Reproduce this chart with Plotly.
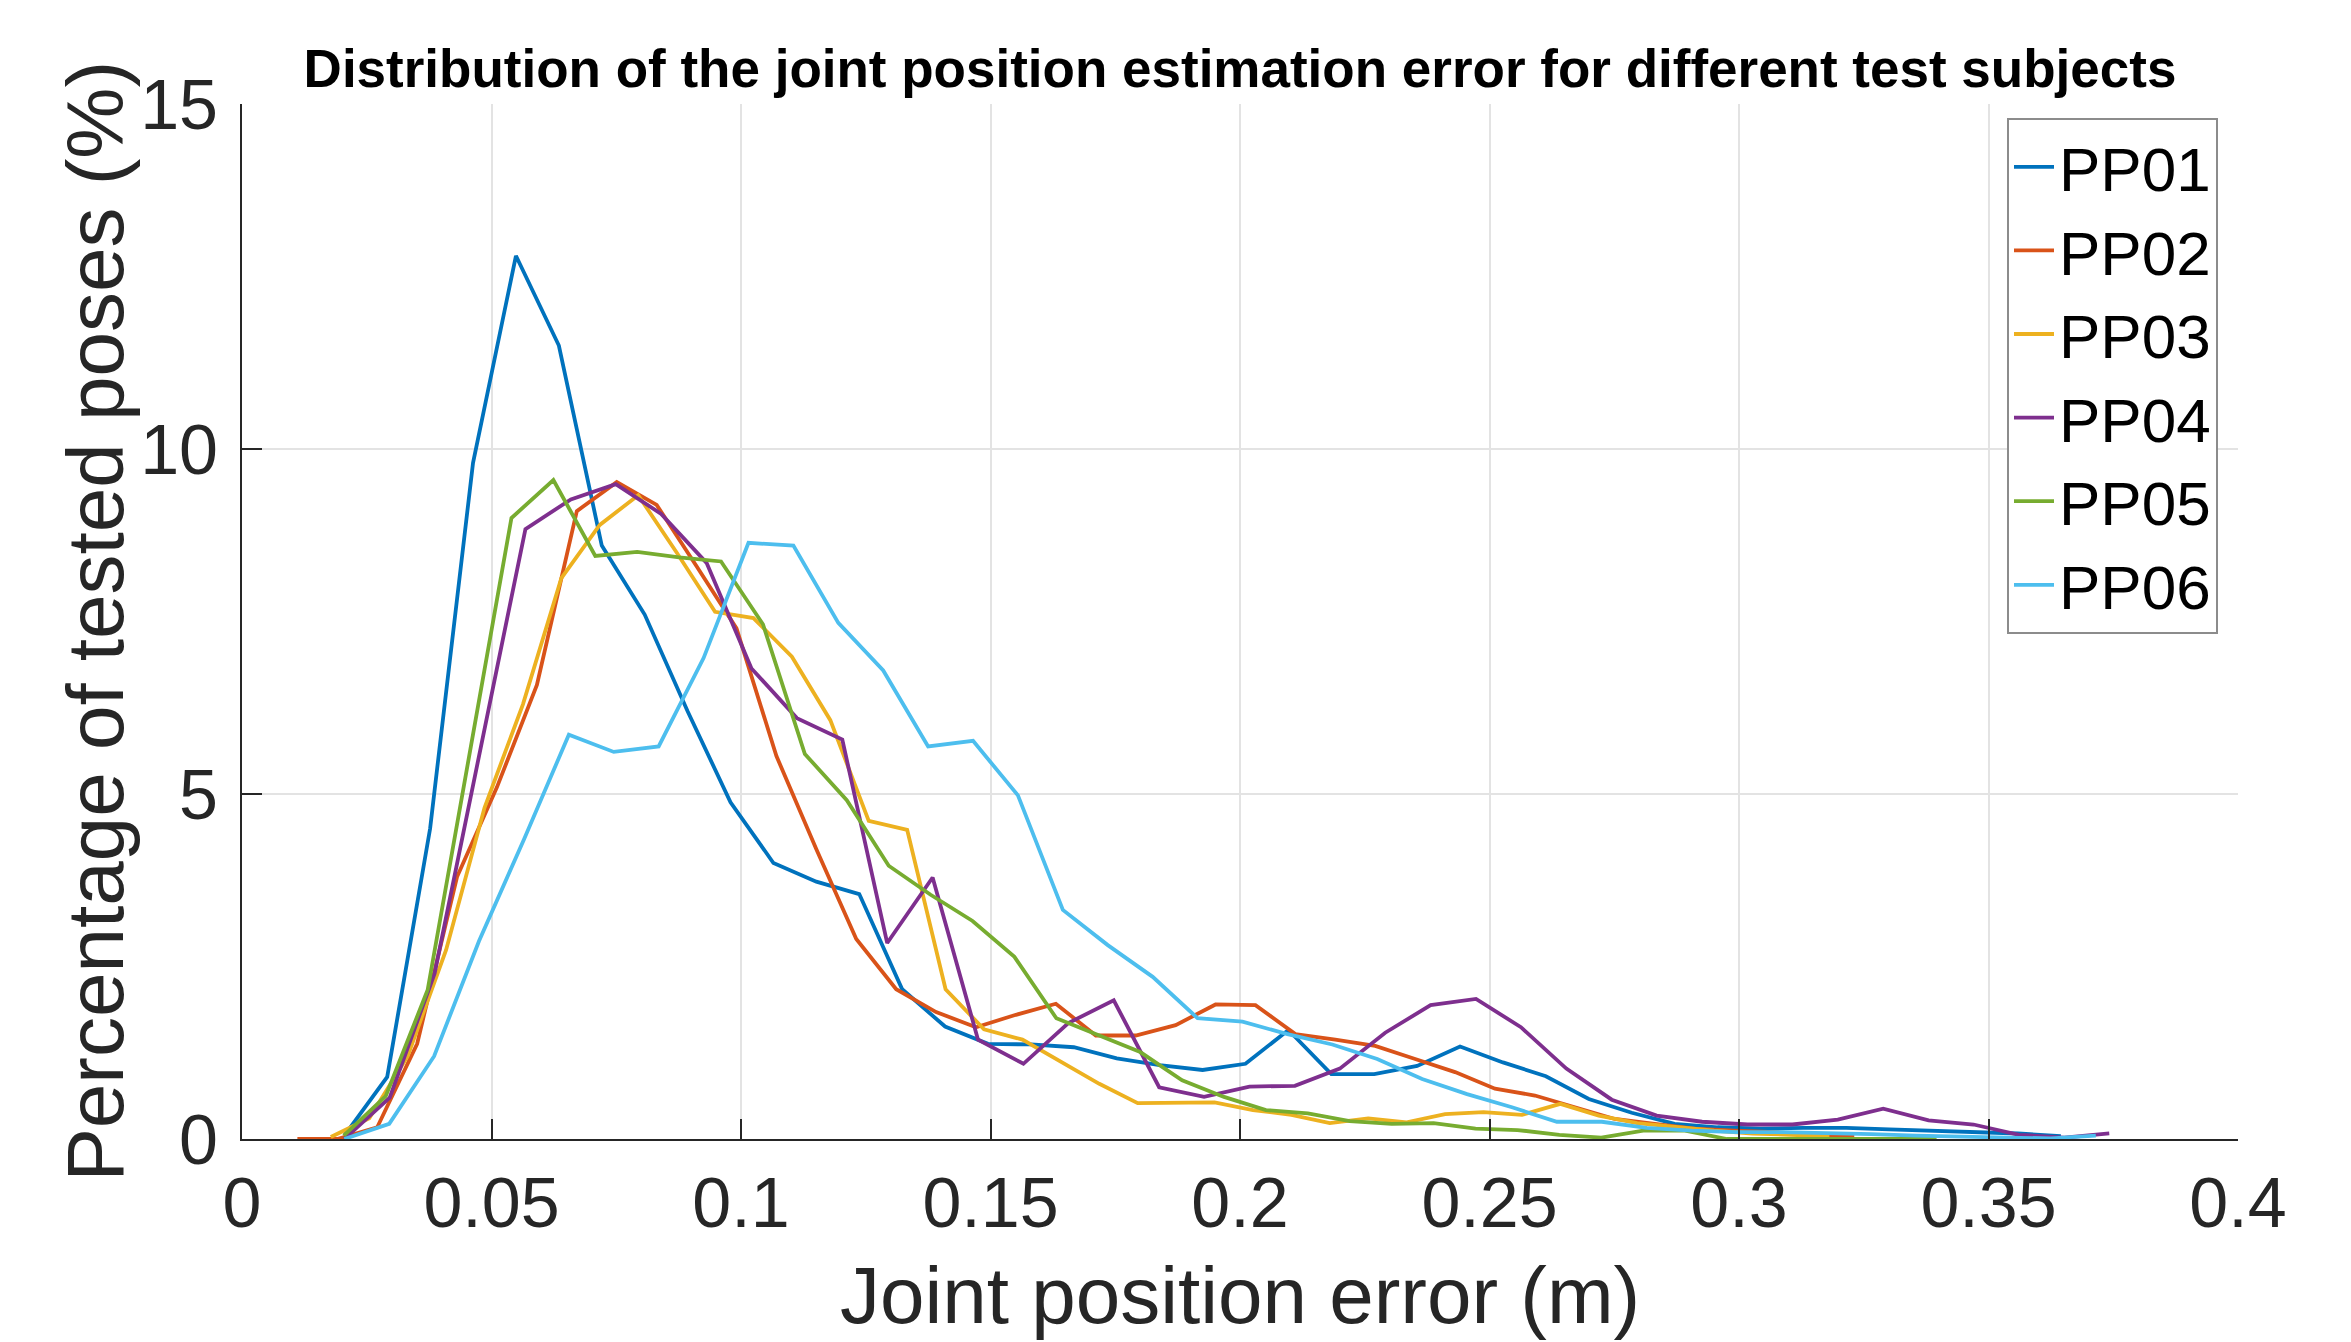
import plotly.graph_objects as go

# ---------------- data ----------------
names = ["PP01", "PP02", "PP03", "PP04", "PP05", "PP06"]
colors = ["#0072BD", "#D95319", "#EDB120", "#7E2F8E", "#77AC30", "#4DBEEE"]

pp01_x = [0.0205, 0.0291, 0.0377, 0.0463, 0.0549, 0.0635, 0.0721, 0.0807, 0.0893, 0.0979,
          0.1065, 0.1151, 0.1237, 0.1323, 0.1409, 0.1495, 0.1581, 0.1667, 0.1753, 0.1839,
          0.1925, 0.2011, 0.2097, 0.2183, 0.2269, 0.2355, 0.2441, 0.2527, 0.2613, 0.2699,
          0.2785, 0.2871, 0.2957, 0.3043, 0.3129, 0.3215, 0.3301, 0.3387, 0.3473, 0.3559,
          0.3645]
pp01_y = [0.05, 0.9, 4.5, 9.8, 12.8, 11.5, 8.6, 7.6, 6.2, 4.88,
          4.0, 3.73, 3.55, 2.17, 1.63, 1.38, 1.37, 1.33, 1.17, 1.07,
          1.0, 1.09, 1.58, 0.94, 0.94, 1.06, 1.34, 1.11, 0.91, 0.58,
          0.38, 0.22, 0.17, 0.15, 0.16, 0.16, 0.14, 0.12, 0.1, 0.08,
          0.04]

pp02_x = [0.0111, 0.0191, 0.0271, 0.0351, 0.0431, 0.0511, 0.0591, 0.0671, 0.0751, 0.0831,
          0.0911, 0.0991, 0.1071, 0.1151, 0.1231, 0.1311, 0.1391, 0.1471, 0.1551, 0.1631,
          0.1711, 0.1791, 0.1871, 0.1951, 0.2031, 0.2111, 0.2191, 0.2271, 0.2351, 0.2431,
          0.2511, 0.2591, 0.2671, 0.2751, 0.2831, 0.2911, 0.2991, 0.3071, 0.3151, 0.3231]
pp02_y = [0.0, 0.0, 0.17, 1.38, 3.8, 5.1, 6.58, 9.1, 9.52, 9.19,
          8.3, 7.4, 5.55, 4.2, 2.9, 2.17, 1.84, 1.62, 1.8, 1.96,
          1.5, 1.5, 1.65, 1.95, 1.94, 1.52, 1.44, 1.35, 1.16, 0.97,
          0.73, 0.63, 0.46, 0.29, 0.22, 0.15, 0.12, 0.1, 0.06, 0.04]

pp03_x = [0.0178, 0.0255, 0.0332, 0.0409, 0.0486, 0.0563, 0.0640, 0.0717, 0.0794, 0.0871,
          0.0948, 0.1025, 0.1102, 0.1179, 0.1256, 0.1333, 0.1410, 0.1487, 0.1564, 0.1641,
          0.1718, 0.1795, 0.1872, 0.1949, 0.2026, 0.2103, 0.2180, 0.2257, 0.2334, 0.2411,
          0.2488, 0.2565, 0.2642, 0.2719, 0.2796, 0.2873, 0.2950, 0.3027, 0.3104, 0.3181]
pp03_y = [0.03, 0.3, 1.2, 2.74, 4.8, 6.3, 8.13, 8.9, 9.33, 8.5,
          7.64, 7.55, 6.99, 6.07, 4.61, 4.48, 2.17, 1.59, 1.44, 1.12,
          0.8, 0.52, 0.52, 0.53, 0.42, 0.35, 0.23, 0.3, 0.24, 0.36,
          0.39, 0.35, 0.51, 0.34, 0.23, 0.17, 0.12, 0.08, 0.06, 0.04]

pp04_x = [0.0205, 0.0296, 0.0386, 0.0477, 0.0568, 0.0659, 0.0749, 0.0840, 0.0931, 0.1021,
          0.1112, 0.1203, 0.1293, 0.1384, 0.1475, 0.1566, 0.1656, 0.1747, 0.1838, 0.1928,
          0.2019, 0.2110, 0.2200, 0.2291, 0.2382, 0.2473, 0.2563, 0.2654, 0.2745, 0.2835,
          0.2926, 0.3017, 0.3107, 0.3198, 0.3289, 0.3380, 0.3470, 0.3561, 0.3652, 0.3742]
pp04_y = [0.0, 0.6, 2.4, 5.6, 8.84, 9.27, 9.49, 9.06, 8.35, 6.82,
          6.1, 5.79, 2.84, 3.79, 1.44, 1.09, 1.68, 2.01, 0.75, 0.61,
          0.76, 0.77, 1.02, 1.54, 1.94, 2.03, 1.62, 1.02, 0.57, 0.34,
          0.25, 0.21, 0.21, 0.28, 0.44, 0.27, 0.21, 0.06, 0.02, 0.08]

pp05_x = [0.0204, 0.0288, 0.0372, 0.0456, 0.0540, 0.0624, 0.0708, 0.0792, 0.0876, 0.0960,
          0.1044, 0.1128, 0.1212, 0.1296, 0.1380, 0.1464, 0.1548, 0.1632, 0.1716, 0.1800,
          0.1884, 0.1968, 0.2052, 0.2136, 0.2220, 0.2304, 0.2388, 0.2472, 0.2556, 0.2640,
          0.2724, 0.2808, 0.2892, 0.2976, 0.3060, 0.3144, 0.3228, 0.3312, 0.3396]
pp05_y = [0.05, 0.62, 2.16, 5.6, 9.0, 9.55, 8.45, 8.51, 8.43, 8.37,
          7.46, 5.58, 4.91, 3.96, 3.54, 3.16, 2.64, 1.75, 1.51, 1.26,
          0.85, 0.61, 0.42, 0.37, 0.26, 0.22, 0.23, 0.15, 0.13, 0.06,
          0.02, 0.12, 0.12, 0.0, 0.0, 0.0, 0.01, 0.0, 0.0]

pp06_x = [0.0205, 0.0295, 0.0385, 0.0475, 0.0565, 0.0655, 0.0745, 0.0835, 0.0925, 0.1015,
          0.1105, 0.1195, 0.1285, 0.1375, 0.1465, 0.1555, 0.1645, 0.1735, 0.1825, 0.1915,
          0.2005, 0.2095, 0.2185, 0.2275, 0.2365, 0.2455, 0.2545, 0.2635, 0.2725, 0.2815,
          0.2905, 0.2995, 0.3085, 0.3175, 0.3265, 0.3355, 0.3445, 0.3535, 0.3625, 0.3715]
pp06_y = [0.0, 0.22, 1.2, 2.87, 4.34, 5.86, 5.61, 5.69, 6.97, 8.64,
          8.6, 7.48, 6.79, 5.69, 5.77, 4.98, 3.32, 2.81, 2.35, 1.75,
          1.70, 1.52, 1.37, 1.16, 0.87, 0.65, 0.46, 0.25, 0.25, 0.16,
          0.12, 0.1, 0.1, 0.09, 0.07, 0.05, 0.03, 0.02, 0.01, 0.05]

x_ticks = [0, 0.05, 0.1, 0.15, 0.2, 0.25, 0.3, 0.35, 0.4]
x_tick_labels = ["0", "0.05", "0.1", "0.15", "0.2", "0.25", "0.3", "0.35", "0.4"]
y_ticks = [0, 5, 10, 15]
y_tick_labels = ["0", "5", "10", "15"]

title_text = "Distribution of the joint position estimation error for different test subjects"
x_title = "Joint position error (m)"
y_title = "Percentage of tested poses (%)"

# ---------------- figure ----------------
series_x = [pp01_x, pp02_x, pp03_x, pp04_x, pp05_x, pp06_x]
series_y = [pp01_y, pp02_y, pp03_y, pp04_y, pp05_y, pp06_y]

FONT = "Liberation Sans, Arial, Helvetica, sans-serif"
AX = "#262626"

fig = go.Figure()
for nm, col, xs, ys in zip(names, colors, series_x, series_y):
    fig.add_trace(go.Scatter(x=xs, y=ys, name=nm, mode="lines",
                             line=dict(color=col, width=3.8)))

W, H = 2351, 1342
L, R, T, B = 242, 113, 104, 203
pw, ph = W - L - R, H - T - B

def px_to_paper_x(px):
    return (px - L) / pw

def py_to_paper_y(py):
    return (H - B - py) / ph

fig.update_layout(
    width=W, height=H,
    margin=dict(l=L, r=R, t=T, b=B, pad=0),
    paper_bgcolor="white", plot_bgcolor="white",
    font=dict(family=FONT, color=AX),
    showlegend=True,
    legend=dict(x=px_to_paper_x(2007), y=py_to_paper_y(118), xanchor="left", yanchor="top",
                bgcolor="white", bordercolor="#8c8c8c", borderwidth=2,
                font=dict(family=FONT, size=62, color="black"),
                itemwidth=40, tracegroupgap=0),
    title=dict(text="<b>" + title_text + "</b>", x=0.5, xref="paper", xanchor="center",
               y=1 - 68 / H, yref="container", yanchor="middle",
               font=dict(family=FONT, size=53, color="black")),
    xaxis=dict(range=[0, 0.4], tickvals=x_ticks, ticktext=x_tick_labels,
               showgrid=True, gridcolor="#e3e3e3", gridwidth=1.5,
               showline=True, linecolor=AX, linewidth=2, mirror=False,
               ticks="inside", ticklen=20, tickwidth=1.5, tickcolor=AX,
               tickfont=dict(family=FONT, size=70, color=AX),
               ticklabelstandoff=2, zeroline=False, automargin=False),
    yaxis=dict(range=[0, 15], tickvals=y_ticks, ticktext=y_tick_labels,
               showgrid=True, gridcolor="#e3e3e3", gridwidth=1.5,
               showline=True, linecolor=AX, linewidth=2, mirror=False,
               ticks="inside", ticklen=20, tickwidth=1.5, tickcolor=AX,
               tickfont=dict(family=FONT, size=70, color=AX),
               ticklabelstandoff=8, zeroline=False, automargin=False),
    annotations=[
        dict(text=x_title, xref="paper", yref="paper", x=0.5, y=py_to_paper_y(1295),
             xanchor="center", yanchor="middle", showarrow=False,
             font=dict(family=FONT, size=80, color=AX)),
        dict(text=y_title, xref="paper", yref="paper", x=px_to_paper_x(95), y=0.5,
             xanchor="center", yanchor="middle", showarrow=False, textangle=-90,
             font=dict(family=FONT, size=80, color=AX)),
    ],
)

fig.write_html("out.html", config={"displayModeBar": False},
               post_script="document.body.style.margin='0';document.body.style.overflow='hidden';")
